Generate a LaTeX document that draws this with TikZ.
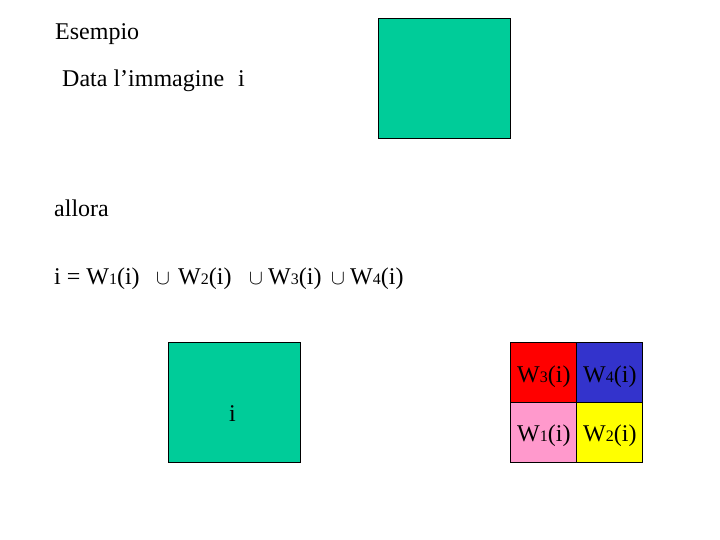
\documentclass[tikz,border=0pt]{standalone}
\usepackage{fontspec}
\setmainfont{Liberation Serif}
\definecolor{teal1}{RGB}{0,204,153}
\definecolor{wred}{RGB}{255,0,0}
\definecolor{wblue}{RGB}{51,51,204}
\definecolor{wpink}{RGB}{255,153,204}
\definecolor{wyellow}{RGB}{255,255,0}
\newcommand{\sbs}[1]{{\fontsize{16}{16}\selectfont #1}}
\newcommand{\Wi}[1]{W\sbs{#1}(i)}
\begin{document}
\begin{tikzpicture}[x=1pt,y=-1pt,
  txt/.style={inner sep=0pt,anchor=base west,font=\fontsize{24}{28}\selectfont},
  cupn/.style={inner sep=0pt,anchor=base west,font=\fontsize{20}{24}\selectfont},
  sq/.style={draw=black,line width=0.8pt}]
\useasboundingbox (0,0) rectangle (720,540);
% top image
\filldraw[sq,fill=teal1] (378,18) rectangle (510,138);
\node[txt] (t1) at (55,40) {Esempio};
\node[txt] (t2) at (62,87) {Data l’immagine};
\node[txt] (t2i) at (238,87) {i};
\node[txt] (t3) at (54,217) {allora};
% equation
\node[txt] (e0) at (54,284) {i = \Wi{1}};
\node[cupn] (c1) at (156,284) {$\cup$};
\node[txt] (e2) at (178,284) {\Wi{2}};
\node[cupn] (c2) at (249,284) {$\cup$};
\node[txt] (e3) at (268,284) {\Wi{3}};
\node[cupn] (c3) at (331,284) {$\cup$};
\node[txt] (e4) at (350,284) {\Wi{4}};
% bottom left image
\filldraw[sq,fill=teal1] (168,342) rectangle (300,462);
\node[txt] (bi) at (229,421) {i};
% grid
\filldraw[sq,fill=wred] (510,342) rectangle (576,402);
\filldraw[sq,fill=wblue] (576,342) rectangle (642,402);
\filldraw[sq,fill=wpink] (510,402) rectangle (576,462);
\filldraw[sq,fill=wyellow] (576,402) rectangle (642,462);
\node[txt] (g3) at (517,382) {\Wi{3}};
\node[txt] (g4) at (583,382) {\Wi{4}};
\node[txt] (g1) at (517,441) {\Wi{1}};
\node[txt] (g2) at (583,441) {\Wi{2}};
\end{tikzpicture}
\end{document}
